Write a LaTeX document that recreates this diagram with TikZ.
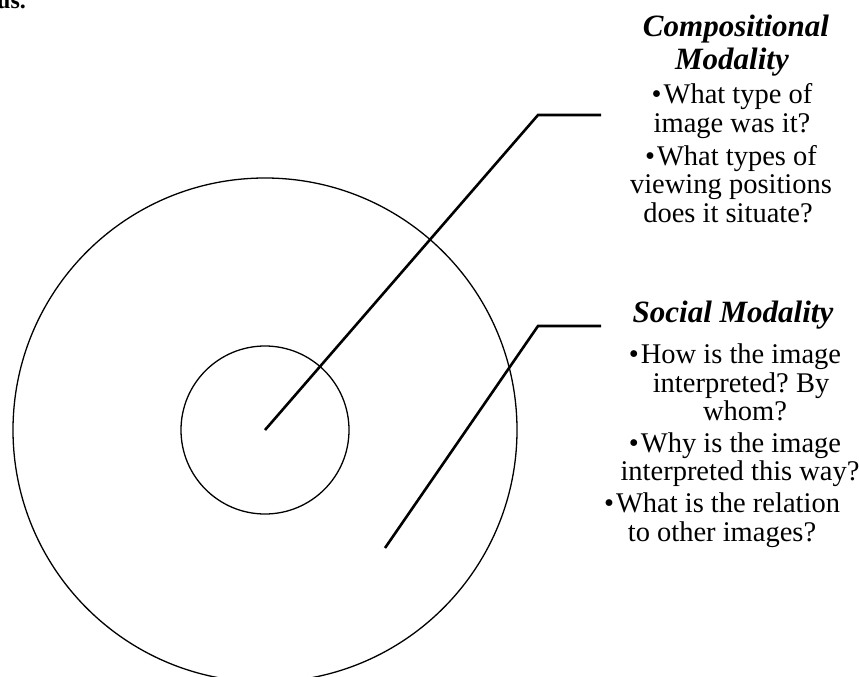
\documentclass[tikz,border=0pt]{standalone}
\usepackage{fontspec}
\setmainfont{Liberation Serif}
\frenchspacing
\begin{document}
\begin{tikzpicture}[x=1pt,y=-1pt,
  ring/.style={draw, circle, line width=1.3pt, inner sep=0pt},
  leader/.style={line width=2.6pt},
  title/.style={font=\fontsize{31}{33}\selectfont\bfseries\itshape, anchor=base, inner sep=0pt},
  body/.style={font=\fontsize{28.5}{29}\selectfont\frenchspacing, anchor=base, inner sep=0pt}]
\useasboundingbox (0,0) rectangle (859,677);
\clip (0,0) rectangle (859,677);
\node[font=\fontsize{24}{26}\selectfont\bfseries, anchor=base west, inner sep=0pt] (cut) at (-3,8.5) {us.};
\coordinate (c) at (265,430);
\node[ring, minimum size=504pt] (outer) at (c) {};
\node[ring, minimum size=168pt] (inner) at (c) {};
\coordinate (k1) at (538,115);
\coordinate (e1) at (601,115);
\draw[leader] (c) -- (k1) -- (e1);
\coordinate (s2) at (385,548);
\coordinate (k2) at (538,326);
\coordinate (e2) at (601,326);
\draw[leader] (s2) -- (k2) -- (e2);
\node[title] (t1a) at (736,37) {Compositional};
\node[title] (t1b) at (732,70) {Modality};
\node[body] (b1a) at (732,103) {•\kern2pt What type of};
\node[body] (b1b) at (732,132) {image was it?};
\node[body] (b1c) at (731,165) {•\kern2pt What types of};
\node[body] (b1d) at (731,193) {viewing positions};
\node[body] (b1e) at (728,222) {does it situate?};
\node[title] (t2) at (733,322) {Social Modality};
\node[body] (b2a) at (735,363) {•\kern2pt How is the image};
\node[body] (b2b) at (741,392) {interpreted? By};
\node[body] (b2c) at (745,420) {whom?};
\node[body] (b2d) at (735,452) {•\kern2pt Why is the image};
\node[body] (b2e) at (740,480) {interpreted this way?};
\node[body] (b2f) at (722,512) {•\kern2pt What is the relation};
\node[body] (b2g) at (722,541) {to other images?};
\end{tikzpicture}
\end{document}
